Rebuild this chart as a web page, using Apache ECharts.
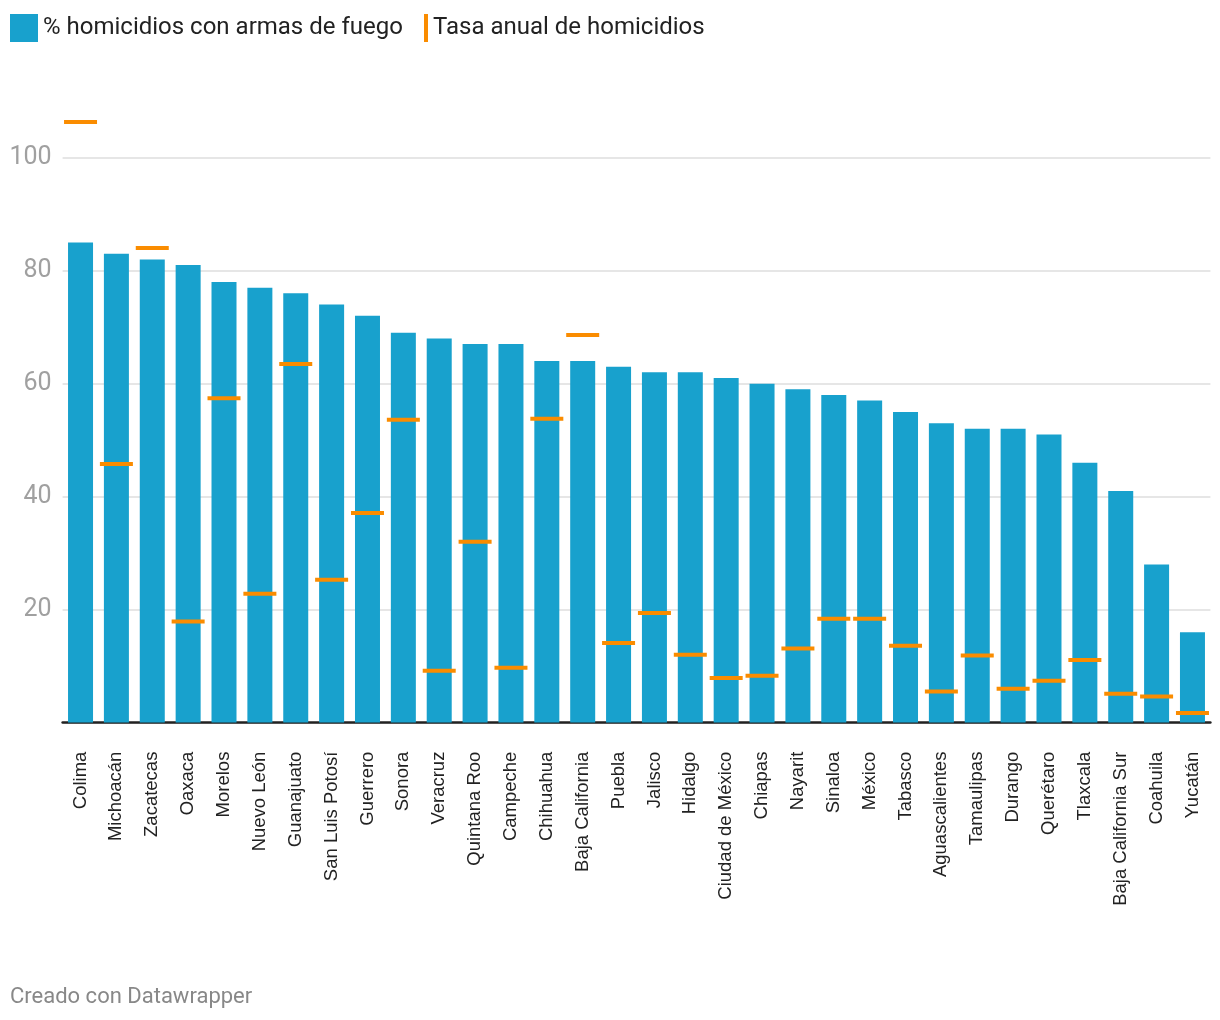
<!DOCTYPE html>
<html>
<head>
<meta charset="utf-8">
<script src="https://cdn.jsdelivr.net/npm/echarts@6/dist/echarts.min.js"></script>
<style>
  html, body { margin: 0; padding: 0; background: #fff; }
  #chart { width: 1220px; height: 1020px; }
</style>
</head>
<body>
<div id="chart"></div>
<script>
const categories = ["Colima","Michoacán","Zacatecas","Oaxaca","Morelos","Nuevo León","Guanajuato","San Luis Potosí","Guerrero","Sonora","Veracruz","Quintana Roo","Campeche","Chihuahua","Baja California","Puebla","Jalisco","Hidalgo","Ciudad de México","Chiapas","Nayarit","Sinaloa","México","Tabasco","Aguascalientes","Tamaulipas","Durango","Querétaro","Tlaxcala","Baja California Sur","Coahuila","Yucatán"];
const pctFirearms = [85,83,82,81,78,77,76,74,72,69,68,67,67,64,64,63,62,62,61,60,59,58,57,55,53,52,52,51,46,41,28,16];
const homicideRate = [106.3,45.8,84.0,17.9,57.4,22.8,63.5,25.3,37.1,53.6,9.2,32.0,9.7,53.8,68.6,14.1,19.4,12.0,7.9,8.3,13.1,18.4,18.4,13.6,5.5,11.9,6.0,7.4,11.1,5.1,4.6,1.7];
const yTicks = [20,40,60,80,100];
const S1 = "% homicidios con armas de fuego";
const S2 = "Tasa anual de homicidios";

const chart = echarts.init(document.getElementById('chart'));
chart.setOption({
  animation: false,
  backgroundColor: '#fff',
  textStyle: { fontFamily: 'Roboto' },
  title: {
    text: 'Creado con Datawrapper',
    left: 10, top: 986, padding: 0,
    textStyle: { fontFamily: 'Roboto', fontSize: 22, fontWeight: 'normal', color: '#888' }
  },
  legend: [
    {
      left: 10, top: 14, padding: 0,
      itemWidth: 28, itemHeight: 28,
      data: [{ name: S1, icon: 'rect' }],
      selectedMode: false,
      textStyle: { fontFamily: 'Roboto', fontSize: 24, color: '#222' }
    },
    {
      left: 424, top: 14, padding: 0,
      itemWidth: 4, itemHeight: 28,
      data: [{ name: S2, icon: 'rect' }],
      selectedMode: false,
      textStyle: { fontFamily: 'Roboto', fontSize: 24, color: '#222' }
    }
  ],
  grid: { left: 62.6, right: 9.6, top: 157.7, bottom: 297.4, containLabel: false },
  xAxis: {
    type: 'category',
    data: categories,
    axisLine: { lineStyle: { color: '#222', width: 2.5 } },
    axisTick: { alignWithLabel: true, length: 9, lineStyle: { color: '#222', width: 2 } },
    axisLabel: {
      rotate: 90, margin: 29, interval: 0,
      fontFamily: 'Liberation Sans', fontSize: 18.5, color: '#222'
    }
  },
  yAxis: {
    type: 'value', min: 0, max: 100, interval: 20,
    axisLine: { show: false },
    axisTick: { show: false },
    splitLine: { lineStyle: { color: '#e6e6e6', width: 2 } },
    axisLabel: {
      margin: 11,
      fontFamily: 'Roboto', fontSize: 25, color: '#a0a0a0',
      formatter: v => (yTicks.indexOf(v) >= 0 ? String(v) : '')
    }
  },
  series: [
    {
      name: S1, type: 'bar', data: pctFirearms,
      barWidth: 25,
      itemStyle: { color: '#18a1cd' }
    },
    {
      name: S2, type: 'scatter', data: homicideRate,
      symbol: 'rect', symbolSize: [33, 4],
      clip: false, z: 5,
      itemStyle: { color: '#fa8c00', opacity: 1 }
    }
  ]
});
</script>
</body>
</html>
